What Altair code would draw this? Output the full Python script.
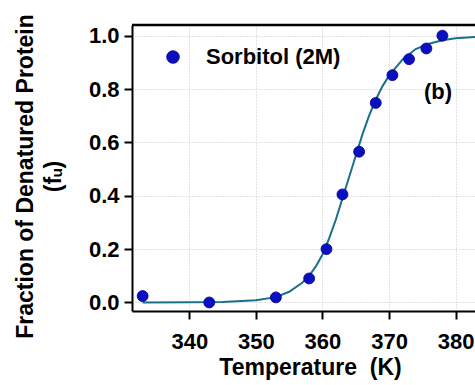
import altair as alt
import pandas as pd

# measured points
temp_pts = [333, 343, 353, 358, 360.6, 363, 365.5, 368, 370.5, 373, 375.6, 378]
fu_pts = [0.024, 0.0, 0.019, 0.09, 0.2, 0.405, 0.565, 0.748, 0.852, 0.912, 0.952, 1.0]

# fitted curve
temp_fit = [333, 340, 345, 350, 353, 355, 357, 358, 359, 360, 361, 362, 363, 364, 365,
            366, 367, 368, 369, 370, 371, 372, 374, 376, 378, 380, 383]
fu_fit = [0.0, 0.0005, 0.002, 0.008, 0.02, 0.04, 0.075, 0.10, 0.135, 0.18, 0.24, 0.31,
          0.39, 0.47, 0.55, 0.63, 0.70, 0.76, 0.81, 0.85, 0.88, 0.91, 0.95, 0.97, 0.983,
          0.99, 0.995]

x_ticks = [340, 350, 360, 370, 380]
y_ticks = [0.0, 0.2, 0.4, 0.6, 0.8, 1.0]

legend_label = ["Sorbitol (2M)"]
panel_label = ["(b)"]

W, H = 343, 286
FONT = "Liberation Sans"

pts = pd.DataFrame({"T": temp_pts, "f": fu_pts})
fit = pd.DataFrame({"T": temp_fit, "f": fu_fit})

xs = alt.Scale(domain=[331.4, 382.9], nice=False, zero=False)
ys = alt.Scale(domain=[-0.032, 1.04], nice=False, zero=False)

x_axis = alt.Axis(values=x_ticks, title="Temperature\u00a0\u00a0(K)", format="d",
                  grid=True, gridColor="#c4c4c4", gridDash=[1, 2], gridWidth=1,
                  domainColor="black", domainWidth=2, tickColor="black", tickWidth=2,
                  tickSize=8, labelFont=FONT, labelFontWeight="bold", labelFontSize=22,
                  labelColor="black", labelPadding=12, titleFont=FONT,
                  titleFontWeight="bold", titleFontSize=23, titleColor="black",
                  titleX=178, titleY=63, titleBaseline="alphabetic", titleAnchor="middle")
y_axis = alt.Axis(values=y_ticks, title=["Fraction of Denatured Protein", "(fᵤ)"],
                  format=".1f", grid=True, gridColor="#c4c4c4", gridDash=[1, 2],
                  gridWidth=1, domainColor="black", domainWidth=2, tickColor="black",
                  tickWidth=2, tickSize=8, labelFont=FONT, labelFontWeight="bold",
                  labelFontSize=22, labelColor="black", labelPadding=5, titleFont=FONT,
                  titleFontWeight="bold", titleFontSize=23, titleColor="black",
                  titleLineHeight=28, titleAngle=270, titleX=-118, titleY=151,
                  titleBaseline="top", titleAnchor="middle")

line = alt.Chart(fit).mark_line(color="#1c6f8c", strokeWidth=2, clip=True).encode(
    x=alt.X("T:Q", scale=xs, axis=x_axis),
    y=alt.Y("f:Q", scale=ys, axis=y_axis),
)

points = alt.Chart(pts).mark_point(filled=True, shape="circle", size=120, color="#0a10c0",
                                   stroke="#000090", strokeWidth=0.8, opacity=1,
                                   clip=True).encode(
    x=alt.X("T:Q", scale=xs),
    y=alt.Y("f:Q", scale=ys),
)

top_rule = alt.Chart(pd.DataFrame({"a": [0]})).mark_rule(color="black", strokeWidth=2.5).encode(
    x=alt.value(0), x2=alt.value(W), y=alt.value(0)
)

leg_dot = alt.Chart(pd.DataFrame({"a": legend_label})).mark_point(
    filled=True, shape="circle", size=160, color="#0a10c0", stroke="#000090",
    strokeWidth=0.8, opacity=1).encode(x=alt.value(41), y=alt.value(32))

leg_text = alt.Chart(pd.DataFrame({"a": legend_label})).mark_text(
    font=FONT, fontWeight="bold", fontSize=22, color="black", align="left",
    baseline="middle").encode(text="a:N", x=alt.value(74), y=alt.value(32))

panel_text = alt.Chart(pd.DataFrame({"a": panel_label})).mark_text(
    font=FONT, fontWeight="bold", fontSize=22, color="black", align="left",
    baseline="middle").encode(text="a:N", x=alt.value(292), y=alt.value(67))

chart = alt.layer(line, points, top_rule, leg_dot, leg_text, panel_text).properties(
    width=W, height=H,
    autosize=alt.AutoSizeParams(type="none"),
    padding={"left": 132, "top": 25, "right": 0, "bottom": 74},
).configure_view(stroke=None).configure(background="white")

chart.save("out.html", embed_options={"renderer": "svg", "actions": False})
